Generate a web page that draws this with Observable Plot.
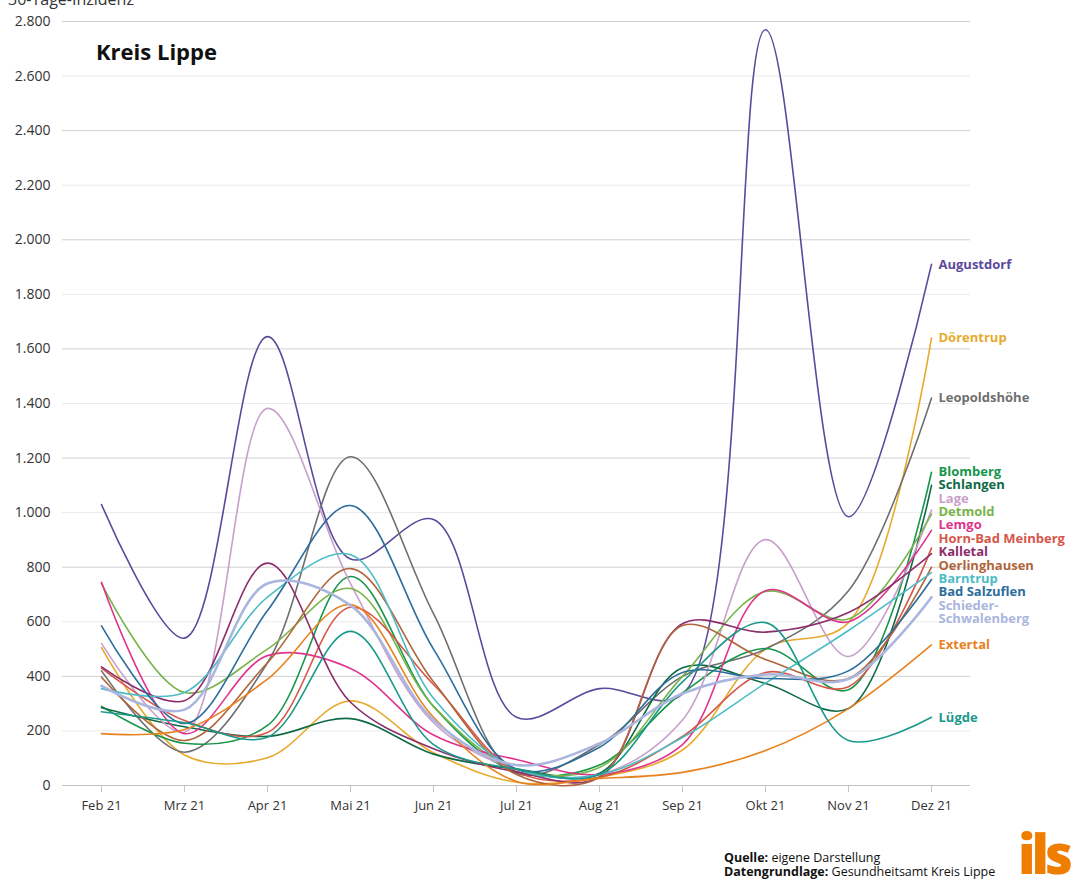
<!DOCTYPE html>
<html>
<head>
<meta charset="utf-8">
<script src="https://cdn.jsdelivr.net/npm/d3@7"></script>
<script src="https://cdn.jsdelivr.net/npm/@observablehq/plot@0.6"></script>
<style>
  html, body { margin: 0; padding: 0; background: #fff; }
  #wrap { position: relative; width: 1071px; height: 881px; overflow: hidden; font-family: "Open Sans", "Noto Sans", sans-serif; }
  #wrap svg { position: absolute; left: 0; top: 0; }
  .ov { position: absolute; white-space: nowrap; }
</style>
</head>
<body>
<div id="wrap">
  <div class="ov" style="left:8px; top:-12px; font-size:16px; color:#333;">30-Tage-Inzidenz</div>
  <div class="ov" style="left:96px; top:36px; font-size:22px; font-weight:700; color:#111;">Kreis Lippe</div>
  <div class="ov" style="left:724px; top:851px; font-size:12.5px; line-height:13.5px; color:#111;"><b>Quelle:</b> eigene Darstellung<br><b>Datengrundlage:</b> Gesundheitsamt Kreis Lippe</div>
  <div class="ov" style="left:1018px; top:816px; font-size:54px; font-weight:800; color:#ee7d00; letter-spacing:-4px;">ils</div>
</div>
<script>
// ---- data ----
const months = ["Feb 21","Mrz 21","Apr 21","Mai 21","Jun 21","Jul 21","Aug 21","Sep 21","Okt 21","Nov 21","Dez 21"];
const yTicks = [0,200,400,600,800,1000,1200,1400,1600,1800,2000,2200,2400,2600,2800];

const augustdorf    = [1030, 540, 1645, 830, 975, 250, 355, 335, 2770, 985, 1910];
const doerentrup    = [505, 112, 102, 310, 120, 12, 30, 130, 500, 597, 1640];
const leopoldshoehe = [420, 122, 450, 1205, 630, 45, 150, 400, 500, 714, 1420];
const blomberg      = [290, 155, 220, 766, 290, 50, 75, 340, 502, 351, 1148];
const schlangen     = [285, 215, 180, 245, 115, 60, 45, 432, 374, 282, 1100];
const lage          = [520, 195, 1382, 740, 230, 60, 40, 240, 901, 473, 1010];
const detmold       = [740, 341, 500, 722, 290, 60, 66, 400, 711, 610, 995];
const lemgo         = [745, 190, 476, 429, 185, 95, 40, 150, 714, 600, 935];
const hornBadMeinberg = [430, 238, 194, 653, 370, 50, 30, 180, 414, 362, 870];
const kalletal      = [435, 311, 815, 305, 135, 50, 30, 593, 562, 634, 850];
const oerlinghausen = [397, 165, 450, 795, 380, 40, 30, 586, 462, 392, 800];
const barntrup      = [355, 341, 690, 846, 320, 60, 40, 176, 375, 568, 780];
const badSalzuflen  = [585, 227, 641, 1026, 500, 60, 140, 414, 392, 420, 755];
const schiederSchwalenberg = [365, 278, 740, 660, 240, 75, 154, 337, 407, 390, 690];
const extertal      = [190, 205, 390, 663, 250, 15, 26, 48, 128, 282, 515];
const luegde        = [270, 230, 177, 565, 150, 60, 40, 380, 597, 165, 250];

const seriesNames = ["Augustdorf","Dörentrup","Leopoldshöhe","Blomberg","Schlangen","Lage","Detmold","Lemgo","Horn-Bad Meinberg","Kalletal","Oerlinghausen","Barntrup","Bad Salzuflen","Schieder-Schwalenberg","Extertal","Lügde"];
const seriesLabels = ["Augustdorf","Dörentrup","Leopoldshöhe","Blomberg","Schlangen","Lage","Detmold","Lemgo","Horn-Bad Meinberg","Kalletal","Oerlinghausen","Barntrup","Bad Salzuflen","Schieder-\nSchwalenberg","Extertal","Lügde"];
const seriesColors = ["#5b4a9b","#e8aa2c","#6f6f6f","#17964a","#0e6a47","#c99fcb","#78b44a","#e0358c","#d6574a","#8c2d6c","#b0653b","#4dbcc6","#2c6d9b","#aab6de","#e8821f","#1b998a"];
const seriesValues = [augustdorf, doerentrup, leopoldshoehe, blomberg, schlangen, lage, detmold, lemgo, hornBadMeinberg, kalletal, oerlinghausen, barntrup, badSalzuflen, schiederSchwalenberg, extertal, luegde];

// ---- build tidy table ----
const rows = [];
seriesNames.forEach((name, i) => {
  seriesValues[i].forEach((v, j) => rows.push({name, month: months[j], value: v}));
});

// ---- label positions: relax overlapping end labels (in data units) ----
const H = 881, W = 1071, mTop = 21, mBottom = 96, mLeft = 62, mRight = 101;
const yMax = 2800;
const unitsPerPx = yMax / (H - mTop - mBottom);
const lineStep = 13.4;
const labels = seriesNames.map((name, i) => {
  const v = seriesValues[i][seriesValues[i].length - 1];
  const nLines = seriesLabels[i].split("\n").length;
  return {name, label: seriesLabels[i], value: v, ly: v, h: lineStep * nLines};
}).sort((a, b) => b.value - a.value);
for (let iter = 0; iter < 800; iter++) {
  let moved = false;
  for (let k = 0; k < labels.length - 1; k++) {
    const a = labels[k], b = labels[k + 1];
    const need = (a.h / 2 + b.h / 2) * unitsPerPx;
    const gap = a.ly - b.ly;
    if (gap < need - 0.01) {
      const d = (need - gap) / 2;
      a.ly += d; b.ly -= d; moved = true;
    }
  }
  if (!moved) break;
}

const de = d3.formatLocale({decimal: ",", thousands: ".", grouping: [3], currency: ["", " €"]});
const fmt = de.format(",d");
const majors = yTicks.filter(t => t > 0 && t % 400 === 0);
const minors = yTicks.filter(t => t > 0 && t % 400 !== 0);

const chart = Plot.plot({
  width: W, height: H,
  marginTop: mTop, marginBottom: mBottom, marginLeft: mLeft, marginRight: mRight,
  style: {fontFamily: "'Open Sans', 'Noto Sans', sans-serif", color: "#333", background: "transparent"},
  x: {type: "point", domain: months, padding: 0.45, label: null},
  y: {domain: [0, yMax], label: null},
  color: {domain: seriesNames, range: seriesColors},
  marks: [
    Plot.ruleY(minors, {stroke: "#ebebeb", strokeWidth: 1}),
    Plot.ruleY(majors, {stroke: "#d0d0d0", strokeWidth: 1}),
    Plot.ruleY([0], {stroke: "#c4c4c4", strokeWidth: 1.2}),
    Plot.axisY(yTicks, {tickSize: 0, tickPadding: 12, tickFormat: fmt, fontSize: 14, fill: "#333", label: null}),
    Plot.axisX({tickSize: 7, tickPadding: 8, fontSize: 13, stroke: "#c4c4c4", fill: "#333", label: null}),
    Plot.line(rows.filter(d => d.name !== "Schieder-Schwalenberg"), {x: "month", y: "value", z: "name", stroke: "name", curve: "catmull-rom", strokeWidth: 1.6}),
    Plot.line(rows.filter(d => d.name === "Schieder-Schwalenberg"), {x: "month", y: "value", z: "name", stroke: "name", curve: "catmull-rom", strokeWidth: 2.6}),
    Plot.text(labels, {x: () => months[months.length - 1], y: "ly", text: "label", fill: "name", textAnchor: "start", dx: 7, fontSize: 13, fontWeight: 700, lineHeight: 1.03})
  ]
});
document.getElementById("wrap").prepend(chart);
</script>
</body>
</html>
